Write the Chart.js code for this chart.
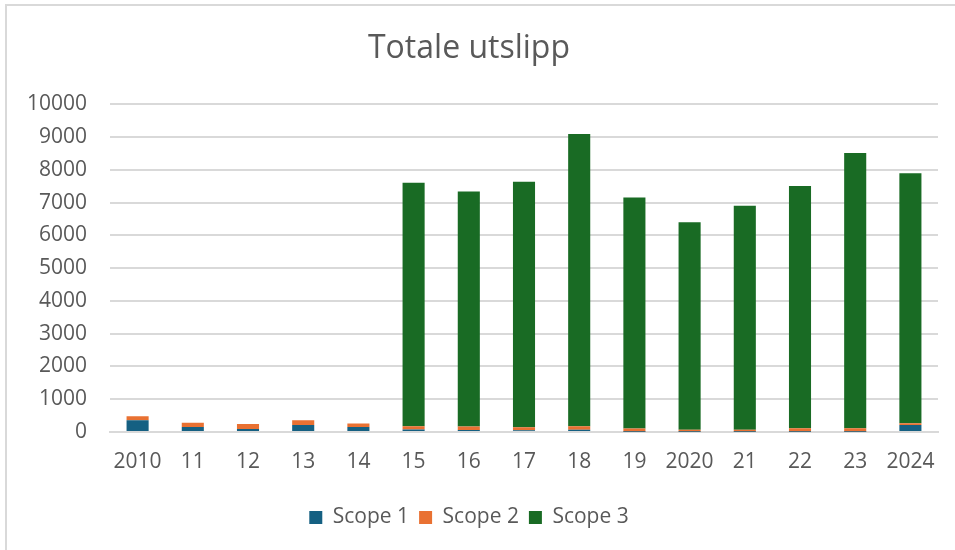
<!DOCTYPE html>
<html>
<head>
<meta charset="utf-8">
<script src="https://cdn.jsdelivr.net/npm/chart.js@4/dist/chart.umd.min.js"></script>
<style>
  html, body { margin: 0; padding: 0; background: #ffffff; }
  #wrap { position: relative; width: 955px; height: 550px; overflow: hidden; background: #fff; }
  #frame { position: absolute; left: 5px; top: 4px; right: -10px; bottom: -10px; border-left: 2px solid #d9d9d9; border-top: 2px solid #d9d9d9; }
  #c { position: absolute; left: 0; top: 0; }
</style>
</head>
<body>
<div id="wrap">
  <div id="frame"></div>
  <canvas id="c" width="955" height="550"></canvas>
</div>
<script>
const categories = ["2010","11","12","13","14","15","16","17","18","19","2020","21","22","23","2024"];
const scope1 = [355,150,90,215,150,80,60,50,70,10,5,5,10,10,215];
const scope2 = [125,132,152,142,112,95,105,95,105,100,60,65,105,105,50];
const scope3 = [0,0,0,0,0,7435,7180,7495,8925,7050,6335,6840,7395,8405,7635];
const yTicks = [0,1000,2000,3000,4000,5000,6000,7000,8000,9000,10000];

const FONT = "'Open Sans', 'Noto Sans', sans-serif";
const TXT = "#595959";
const GRID = "#d9d9d9";

const barStyle = { barPercentage: 0.4, categoryPercentage: 1.0, borderWidth: 0 };

new Chart(document.getElementById("c"), {
  type: "bar",
  data: {
    labels: categories,
    datasets: [
      Object.assign({ label: "Scope 1", data: scope1, backgroundColor: "#156082" }, barStyle),
      Object.assign({ label: "Scope 2", data: scope2, backgroundColor: "#E97132" }, barStyle),
      Object.assign({ label: "Scope 3", data: scope3, backgroundColor: "#196B24" }, barStyle)
    ]
  },
  options: {
    responsive: false,
    animation: false,
    devicePixelRatio: 1,
    layout: { padding: { left: 0, right: 17, top: 0, bottom: 12 } },
    plugins: {
      tooltip: { enabled: false },
      title: {
        display: true,
        text: "Totale utslipp",
        color: TXT,
        font: { family: FONT, size: 32, weight: "normal", lineHeight: 1.2 },
        padding: { top: 30, bottom: 36 }
      },
      legend: {
        display: true,
        position: "bottom",
        labels: {
          color: TXT,
          font: { family: FONT, size: 21 },
          boxWidth: 13,
          boxHeight: 13,
          padding: 10
        }
      }
    },
    scales: {
      x: {
        stacked: true,
        grid: { display: false, drawTicks: false },
        border: { display: true, color: GRID, width: 2 },
        ticks: { color: TXT, font: { family: FONT, size: 21 }, padding: 17, maxRotation: 0, autoSkip: false },
        afterFit: (s) => { s.height = 65; }
      },
      y: {
        stacked: true,
        min: 0,
        max: 10000,
        afterBuildTicks: (s) => { s.ticks = yTicks.map(v => ({ value: v })); },
        grid: { color: GRID, lineWidth: 2, drawTicks: false },
        border: { display: false },
        ticks: { color: TXT, font: { family: FONT, size: 21 }, padding: 23, callback: (v) => String(v) },
        afterFit: (s) => { s.width = 110; }
      }
    }
  }
});
</script>
</body>
</html>
